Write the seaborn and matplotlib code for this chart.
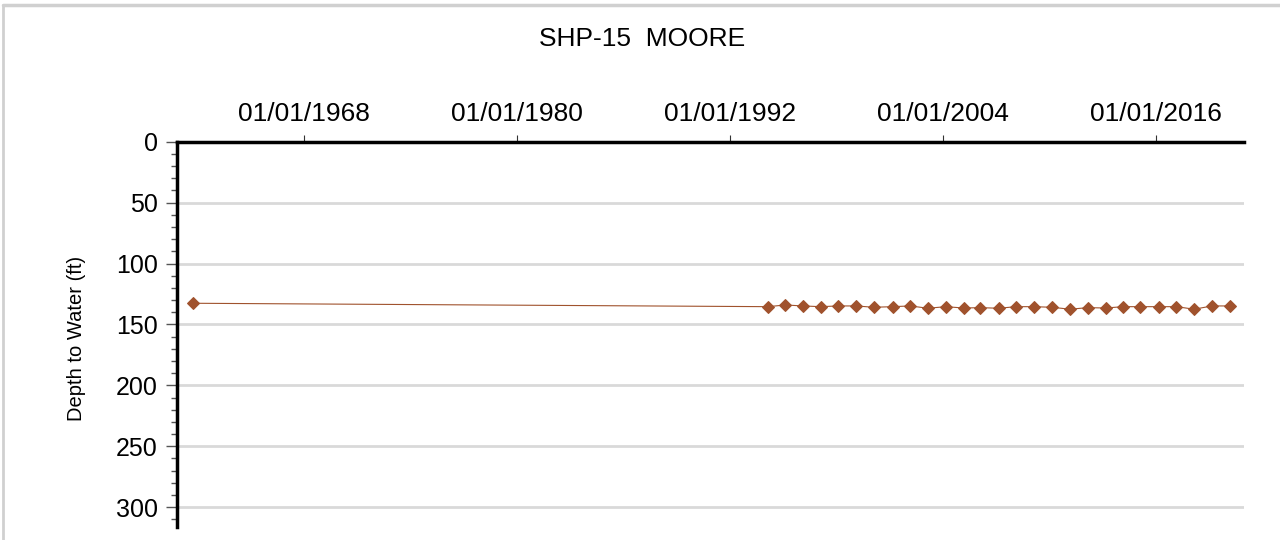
import pandas as pd
import matplotlib
matplotlib.use("Agg")
import matplotlib.pyplot as plt
import matplotlib.dates as mdates
from matplotlib.ticker import MultipleLocator
import seaborn as sns

# datos
fechas = ["1961-09-20", "1994-03-01", "1995-02-10", "1996-02-10", "1997-02-10",
          "1998-02-10", "1999-02-10", "2000-02-10", "2001-03-01", "2002-03-01",
          "2003-03-01", "2004-03-01", "2005-03-01", "2006-02-10", "2007-03-01",
          "2008-02-10", "2009-02-10", "2010-03-01", "2011-03-01", "2012-03-01",
          "2013-03-01", "2014-03-01", "2015-02-10", "2016-03-01", "2017-03-01",
          "2018-03-01", "2019-03-01", "2020-03-01"]
profundidad = [132.6, 135.4, 134.0, 134.8, 135.4, 134.8, 134.8, 135.9, 135.4, 134.8,
               136.7, 135.4, 136.5, 136.2, 136.7, 135.4, 135.4, 135.9, 137.5, 136.2,
               136.5, 135.4, 135.4, 135.4, 135.4, 137.5, 134.8, 134.8]
ticks_x = ["1968-01-01", "1980-01-01", "1992-01-01", "2004-01-01", "2016-01-01"]
ticks_y = [0, 50, 100, 150, 200, 250, 300]

df = pd.DataFrame({"fecha": pd.to_datetime(fechas), "profundidad": profundidad})

sns.set_style("white", rc={"text.color": "black", "xtick.color": "black",
                           "ytick.color": "black", "axes.labelcolor": "black"})
plt.rcParams["font.family"] = ["Liberation Sans", "DejaVu Sans"]

fig = plt.figure(figsize=(12.8, 5.4), dpi=100)
ax = fig.add_axes([0.1383, 0.0246, 0.8336, 0.713])

sns.lineplot(data=df, x="fecha", y="profundidad", ax=ax, color="#a0522d",
             linewidth=0.8, marker="D", markersize=6, markeredgecolor="#a0522d")

ax.set_xlim(pd.Timestamp("1960-11-05"), pd.Timestamp("2020-12-20"))
ax.set_ylim(316, 0)

ax.xaxis.tick_top()
ax.set_xticks(pd.to_datetime(ticks_x))
ax.xaxis.set_major_formatter(mdates.DateFormatter("%m/%d/%Y"))
ax.set_yticks(ticks_y)
ax.yaxis.set_minor_locator(MultipleLocator(10))

ax.tick_params(axis="x", which="major", top=True, bottom=False, direction="out",
               length=5, width=0.8, color="#333333", labelcolor="black",
               labelsize=19, pad=6)
ax.tick_params(axis="y", which="major", left=True, direction="out",
               length=8, width=1, color="#555555", labelcolor="black",
               labelsize=18, pad=6)
ax.tick_params(axis="y", which="minor", left=True, direction="out",
               length=4, width=1, color="#555555")

ax.grid(axis="y", which="major", color="#d9d9d9", linewidth=2)
ax.grid(axis="x", visible=False)

for s in ["right", "bottom"]:
    ax.spines[s].set_visible(False)
for s in ["left", "top"]:
    ax.spines[s].set_linewidth(2.5)
    ax.spines[s].set_color("black")

ax.set_xlabel("")
ax.set_ylabel("Depth to Water (ft)", fontsize=14.5, color="black")
ax.yaxis.set_label_coords(-0.0852, 0.49)

fig.text(0.502, 0.927, "SHP-15  MOORE", ha="center", va="center", fontsize=19,
         color="black")

# borde gris
fig.add_artist(plt.Line2D([0.002, 1.0], [0.99, 0.99], color="#d0d0d0", linewidth=2.5,
                          transform=fig.transFigure))
fig.add_artist(plt.Line2D([0.0025, 0.0025], [0.0, 0.99], color="#d0d0d0", linewidth=2,
                          transform=fig.transFigure))

fig.savefig("out.png", dpi=100)
